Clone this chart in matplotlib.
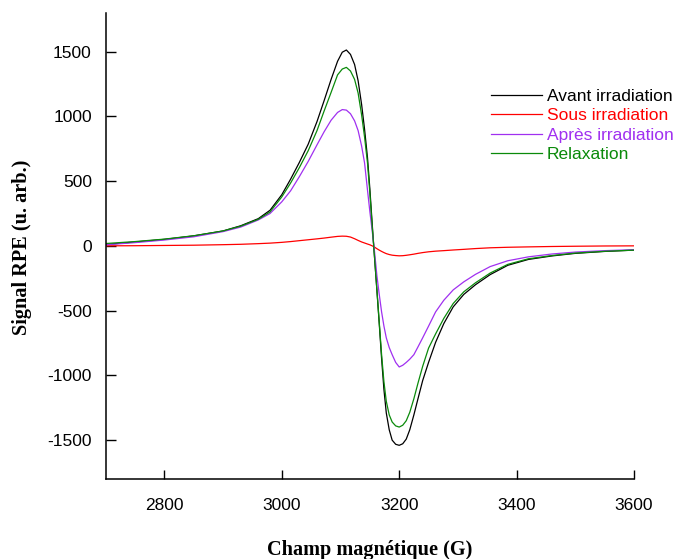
import matplotlib
matplotlib.use("Agg")
import matplotlib.pyplot as plt

# Magnetic field (G)
champ = [2700, 2750, 2800, 2850, 2900, 2930, 2960, 2980, 3000, 3015, 3030, 3045,
         3060, 3072, 3084, 3095, 3103, 3110, 3117, 3124, 3130, 3136, 3141, 3146,
         3150, 3154, 3158, 3162, 3166, 3170, 3174, 3178, 3183, 3188, 3194, 3200,
         3206, 3212, 3218, 3225, 3232, 3240, 3250, 3262, 3276, 3292, 3310, 3330,
         3355, 3385, 3420, 3460, 3500, 3550, 3600]

avant = [10, 30, 50, 77, 115, 155, 210, 275, 395, 515, 645, 785,
         960, 1120, 1285, 1425, 1495, 1512, 1478, 1400, 1275, 1090, 900, 680,
         440, 170, -90, -342, -600, -870, -1110, -1290, -1420, -1500, -1532, -1540,
         -1528, -1492, -1420, -1305, -1180, -1040, -900, -745, -600, -471, -375, -300,
         -222, -150, -105, -78, -58, -43, -33]

sous = [0, 1, 3, 5, 9, 12, 17, 21, 27, 33, 40, 47,
        54, 60, 67, 73, 75, 74, 68, 55, 42, 30, 22, 14,
        8, 0, -10, -22, -33, -43, -52, -60, -67, -72, -75, -77,
        -76, -73, -69, -64, -58, -52, -46, -41, -37, -32, -27, -21,
        -15, -11, -8, -5, -3, -1, 0]

apres = [8, 25, 45, 70, 110, 145, 200, 250, 340, 425, 535, 652,
         780, 880, 970, 1030, 1052, 1048, 1020, 965, 890, 770, 640, 430,
         265, 115, -45, -230, -375, -510, -620, -710, -785, -840, -900, -935,
         -922, -900, -875, -840, -780, -710, -620, -510, -420, -340, -278, -220,
         -160, -115, -85, -63, -48, -37, -30]

relax = [18, 33, 52, 78, 115, 152, 205, 262, 378, 485, 605, 735,
         890, 1040, 1185, 1320, 1365, 1378, 1350, 1285, 1180, 1010, 840, 640,
         410, 150, -90, -340, -590, -840, -1050, -1200, -1305, -1360, -1390, -1399,
         -1385, -1350, -1285, -1180, -1060, -930, -790, -680, -560, -445, -355, -285,
         -210, -143, -100, -75, -56, -42, -33]

labels = ["Avant irradiation", "Sous irradiation", "Après irradiation", "Relaxation"]
colors = ["#000000", "#ff0000", "#a030f0", "#0a8a0a"]
series = [avant, sous, apres, relax]

xticks = [2800, 3000, 3200, 3400, 3600]
yticks = [-1500, -1000, -500, 0, 500, 1000, 1500]

plt.rcParams["font.family"] = ["Liberation Sans", "DejaVu Sans"]
plt.rcParams["axes.unicode_minus"] = False

fig = plt.figure(figsize=(6.76, 5.59), dpi=100)
ax = fig.add_axes([105.7 / 676, 1 - 479 / 559, (634 - 105.7) / 676, (479 - 12.7) / 559])

for y, c, lab in zip(series, colors, labels):
    ax.plot(champ, y, color=c, lw=0.9, label=lab)

ax.set_xlim(2700, 3600)
ax.set_ylim(-1800, 1800)
ax.set_xticks(xticks)
ax.set_yticks(yticks)
ax.tick_params(axis="x", direction="in", length=6.5, width=1.0, pad=14, labelsize=12.5)
ax.tick_params(axis="y", direction="in", length=7, width=1.0, pad=10, labelsize=12.5)
for s in ["top", "right"]:
    ax.spines[s].set_visible(False)
for s in ["left", "bottom"]:
    ax.spines[s].set_linewidth(1.1)

leg = ax.legend(loc="upper left", bbox_to_anchor=(0.729, 0.837), frameon=False,
                fontsize=12.5, handlelength=2.93, handletextpad=0.29,
                labelspacing=0.25, borderpad=0, borderaxespad=0,
                labelcolor="linecolor")
for h in leg.get_lines():
    h.set_linewidth(0.9)

serif = ["Liberation Serif", "DejaVu Serif"]
fig.text(370 / 676, 1 - 555 / 559, "Champ magnétique (G)", ha="center", va="baseline",
         fontsize=14.6, fontweight="bold", family=serif)
fig.text(22 / 676, 1 - 247 / 559, "Signal RPE (u. arb.)", ha="center", va="center",
         rotation=90, fontsize=14.6, fontweight="bold", family=serif)

fig.savefig("out.png", dpi=100)
